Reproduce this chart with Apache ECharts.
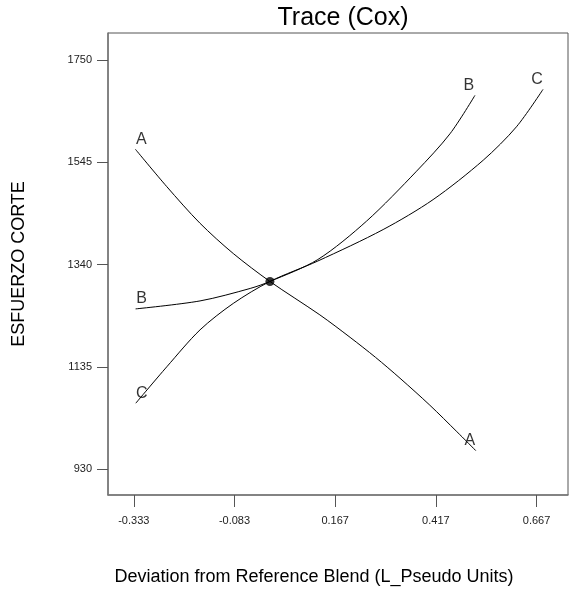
<!DOCTYPE html>
<html>
<head>
<meta charset="utf-8">
<script src="https://cdn.jsdelivr.net/npm/echarts@6/dist/echarts.min.js"></script>
<style>html,body{margin:0;padding:0;background:#fff}#c{width:570px;height:597px}</style>
</head>
<body>
<div id="c"></div>
<script>
// ---- data ----
var xTicks = [-0.333, -0.083, 0.167, 0.417, 0.667];
var yTicks = [930, 1135, 1340, 1545, 1750];
var curveNames = ['A', 'B', 'C'];
var xA = [-0.329, -0.251, -0.169, -0.086, 0.005, 0.129, 0.204, 0.267, 0.328, 0.402, 0.469, 0.516];
var yA = [1571, 1496, 1423, 1362, 1306, 1239, 1194, 1154, 1112, 1058, 1005, 967];
var xB = [-0.3285, -0.1685, -0.044, 0.005, 0.124, 0.245, 0.369, 0.452, 0.514];
var yB = [1251, 1267, 1292, 1306, 1350, 1427, 1527, 1602, 1679];
var xC = [-0.328, -0.251, -0.1685, -0.086, 0.005, 0.124, 0.286, 0.41, 0.5345, 0.617, 0.683];
var yC = [1062, 1135, 1209, 1262, 1306, 1347, 1410, 1470, 1549, 1616, 1691];
var refX = [0.005];
var refY = [1306];

function pairs(xs, ys) { return xs.map(function (x, i) { return [x, ys[i]]; }); }
var curves = [pairs(xA, yA), pairs(xB, yB), pairs(xC, yC)];

// endpoint labels (start: offset right, end: offset left)
var labelData = [];
curves.forEach(function (pts, i) {
  labelData.push({ value: pts[0], name: curveNames[i], label: { offset: [6, -10] } });
  labelData.push({ value: pts[pts.length - 1], name: curveNames[i], label: { offset: [-6, -10] } });
});

var FONT = 'Liberation Sans, Arial, sans-serif';
var chart = echarts.init(document.getElementById('c'), null, { renderer: 'canvas' });
var lineSeries = curves.map(function (pts, i) {
  return {
    type: 'line', name: curveNames[i], data: pts, showSymbol: false, symbol: 'none',
    smooth: 0.3,
    lineStyle: { color: '#000', width: 1 }, silent: true, z: 3
  };
});

chart.setOption({
  animation: false,
  backgroundColor: '#fff',
  title: {
    text: 'Trace (Cox)', left: 338, top: 1, textAlign: 'center',
    textStyle: { fontFamily: FONT, fontSize: 25, fontWeight: 'normal', color: '#000' }
  },
  grid: { left: 108, right: 2, top: 33, bottom: 102, show: true, borderColor: '#555', borderWidth: 1 },
  xAxis: {
    type: 'value', min: -0.397, max: 0.745,
    name: 'Deviation from Reference Blend (L_Pseudo Units)',
    nameLocation: 'middle', nameGap: 73,
    nameTextStyle: { fontFamily: FONT, fontSize: 18, color: '#000', padding: [0, 48, 0, 0] },
    axisLine: { show: true, onZero: false, lineStyle: { color: '#777', width: 1.5 } },
    axisTick: { show: true, inside: false, length: 12, customValues: xTicks, lineStyle: { color: '#555', width: 1 } },
    axisLabel: { customValues: xTicks, margin: 20, fontFamily: FONT, fontSize: 11, color: '#222',
      formatter: function (v) { return v.toFixed(3); } },
    splitLine: { show: false }
  },
  yAxis: {
    type: 'value', min: 878, max: 1804,
    name: 'ESFUERZO CORTE', nameLocation: 'middle', nameGap: 80, nameRotate: 90,
    nameTextStyle: { fontFamily: FONT, fontSize: 18, color: '#000' },
    axisLine: { show: true, onZero: false, lineStyle: { color: '#777', width: 1.5 } },
    axisTick: { show: true, inside: false, length: 11, customValues: yTicks, lineStyle: { color: '#555', width: 1 } },
    axisLabel: { customValues: yTicks, margin: 16, fontFamily: FONT, fontSize: 11, color: '#222',
      formatter: function (v) { return String(v); } },
    splitLine: { show: false }
  },
  series: lineSeries.concat([
    {
      type: 'scatter', data: labelData, symbolSize: 1, itemStyle: { color: 'rgba(0,0,0,0)' }, silent: true, z: 4,
      label: { show: true, position: 'inside', formatter: '{b}', fontFamily: FONT, fontSize: 16, color: '#000' }
    },
    {
      type: 'scatter', data: pairs(refX, refY), symbol: 'circle', symbolSize: 9,
      itemStyle: { color: '#000' }, silent: true, z: 5
    }
  ])
});
</script>
</body>
</html>
